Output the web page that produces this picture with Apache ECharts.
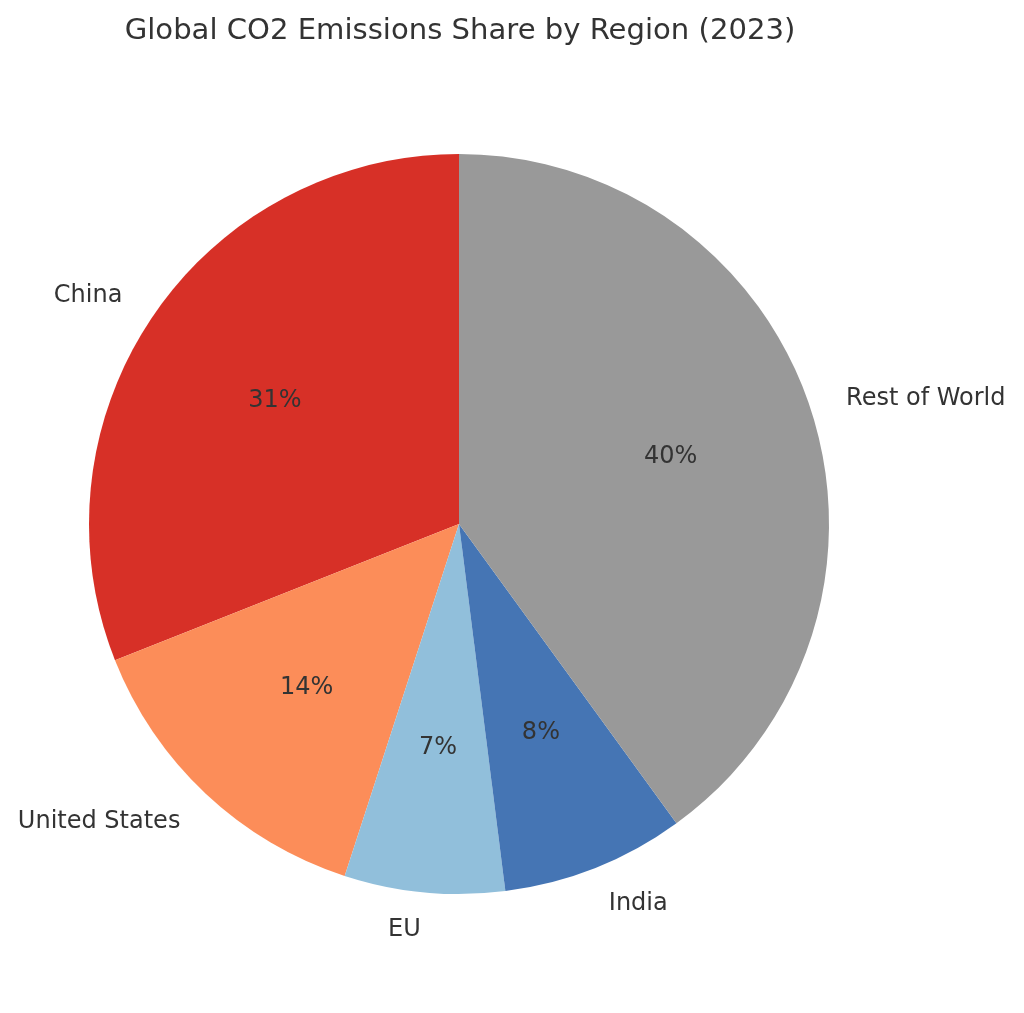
<!DOCTYPE html>
<html>
<head>
<meta charset="utf-8">
<script src="https://cdn.jsdelivr.net/npm/echarts@6/dist/echarts.min.js"></script>
<style>
  html, body { margin: 0; padding: 0; background: #fff; }
  #chart { width: 1024px; height: 1013px; }
</style>
</head>
<body>
<div id="chart"></div>
<script>
// pie data, counter-clockwise from 12 o'clock
var regions = ['China', 'United States', 'EU', 'India', 'Rest of World'];
var shares = [31, 14, 7, 8, 40];
var colors = ['#d73027', '#fc8d59', '#91bfdb', '#4575b4', '#999999'];

var R = 370;
var cx = 459, cy = 524;
var textColor = '#333333';
var font = 'DejaVu Sans';

function plainData() {
    return regions.map(function (name, i) {
        return { name: name, value: shares[i] };
    });
}

var chart = echarts.init(document.getElementById('chart'));
var option = {
    animation: false,
    backgroundColor: '#ffffff',
    title: {
        text: 'Global CO2 Emissions Share by Region (2023)',
        left: 455,
        top: 12,
        textAlign: 'center',
        textStyle: { fontFamily: font, fontSize: 29.1, fontWeight: 'normal', color: textColor }
    },
    series: [
        {
            // the slices themselves
            type: 'pie',
            center: [cx, cy],
            radius: [0, R],
            startAngle: 90,
            clockwise: false,
            silent: true,
            data: regions.map(function (name, i) {
                return { name: name, value: shares[i], itemStyle: { color: colors[i] } };
            }),
            label: { show: false },
            labelLine: { show: false }
        },
        {
            // names just outside the rim (1.1 r)
            type: 'pie',
            center: [cx, cy + 1],
            radius: [0, R],
            startAngle: 90,
            clockwise: false,
            avoidLabelOverlap: false,
            silent: true,
            data: plainData(),
            itemStyle: { color: 'rgba(0,0,0,0)' },
            label: {
                position: 'outside',
                formatter: '{b}',
                fontFamily: font,
                fontSize: 24,
                color: textColor,
                distanceToLabelLine: 0
            },
            labelLine: { show: false, length: 37, length2: 0 }
        },
        {
            // percentages at 0.6 r
            type: 'pie',
            center: [cx, cy + 2],
            radius: [0, R * 1.2 - 5],
            startAngle: 90,
            clockwise: false,
            avoidLabelOverlap: false,
            silent: true,
            data: plainData(),
            itemStyle: { color: 'rgba(0,0,0,0)' },
            label: {
                position: 'inside',
                formatter: function (p) { return p.value + '%'; },
                fontFamily: font,
                fontSize: 24,
                color: textColor
            },
            labelLine: { show: false }
        }
    ]
};
chart.setOption(option);
</script>
</body>
</html>
